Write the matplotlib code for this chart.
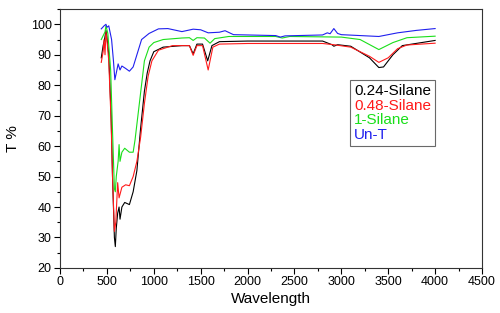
import matplotlib
matplotlib.use("Agg")
import matplotlib.pyplot as plt
from matplotlib.ticker import MultipleLocator

plt.rcParams['font.family'] = ['Liberation Sans', 'DejaVu Sans']

# 0.24-Silane (black)
x_black = [440, 460, 475, 490, 500, 520, 545, 560, 580, 590, 600, 615, 630, 640, 660, 690, 740,
           780, 820, 860, 900, 930, 960, 1000, 1100, 1300, 1380, 1420, 1460, 1520, 1575, 1620,
           1700, 2000, 2800, 2900, 2920, 2960, 3100, 3300, 3400, 3450, 3550, 3650, 4000]
y_black = [89, 93, 95, 98, 96, 90, 70, 50, 30, 27, 33, 38, 40, 36, 40, 41.5, 40.8,
           45, 52, 66, 78, 84, 88, 91, 92.5, 93, 93, 90.3, 93.5, 93.5, 88, 93,
           94.3, 94.5, 94.5, 93.3, 92.8, 93.3, 92.8, 89, 85.8, 86, 90, 93, 94.7]

# 0.48-Silane (red)
x_red = [440, 460, 470, 480, 490, 500, 520, 545, 560, 580, 595, 615, 630, 660, 700, 740, 780,
         820, 860, 900, 940, 980, 1050, 1200, 1380, 1420, 1460, 1520, 1580, 1630, 1700, 2000,
         2800, 2920, 3100, 3300, 3400, 3500, 3600, 3700, 4000]
y_red = [87.5, 91, 95, 90, 97.5, 95, 88, 68, 50, 32, 35, 48, 43, 46.5, 47.3, 47, 50,
         55, 63, 74, 83, 88, 91.5, 93, 93, 89.8, 93, 93, 85, 92.5, 93.5, 93.7,
         93.7, 93.3, 92.5, 89.5, 87.5, 89, 92, 93.2, 93.8]

# 1-Silane (green)
x_green = [440, 480, 490, 510, 540, 560, 580, 590, 600, 620, 630, 640, 660, 690, 740, 780, 800,
           850, 900, 950, 1000, 1100, 1300, 1380, 1420, 1460, 1540, 1600, 1650, 1800, 2300,
           2370, 2450, 3000, 3200, 3400, 3550, 3700, 4000]
y_green = [95, 97.5, 99.5, 97, 85, 65, 46, 45, 50, 55, 60.5, 55, 58, 59.3, 58, 58, 62,
           75, 88, 92.5, 94, 95, 95.5, 95.6, 94.7, 95.6, 95.5, 93.8, 95.3, 96, 96,
           95.5, 96, 95.8, 95, 91.7, 94, 95.6, 96.1]

# Un-T (blue)
x_blue = [440, 470, 490, 500, 520, 550, 570, 585, 600, 620, 640, 660, 700, 740, 780, 820, 870,
          950, 1050, 1150, 1300, 1420, 1500, 1580, 1700, 1760, 1850, 2000, 2300, 2350, 2400,
          2800, 2850, 2880, 2920, 2960, 3000, 3200, 3400, 3600, 3800, 4000]
y_blue = [98.5, 99.5, 100, 99, 99.5, 95, 88, 81.8, 84, 87, 85, 86.3, 85.5, 84.6, 86, 90, 95,
          97, 98.5, 98.6, 97.6, 98.4, 98.2, 97.2, 97.4, 97.9, 96.6, 96.5, 96.3, 95.8, 96.2,
          96.5, 97.2, 96.9, 98.6, 97, 96.6, 96.3, 96, 97.2, 98, 98.6]

series = [
    ("0.24-Silane", x_black, y_black, "#000000"),
    ("0.48-Silane", x_red, y_red, "#ff1a1a"),
    ("1-Silane", x_green, y_green, "#1adf1a"),
    ("Un-T", x_blue, y_blue, "#2020ee"),
]

fig = plt.figure(figsize=(5.0, 3.13), dpi=100)
ax = fig.add_axes([0.12, 0.144, 0.844, 0.827])

for label, xs, ys, c in series:
    ax.plot(xs, ys, color=c, lw=0.8, label=label)

ax.set_xlim(0, 4500)
ax.set_ylim(20, 105)
ax.set_xticks(range(0, 4501, 500))
ax.set_yticks(range(20, 101, 10))
ax.xaxis.set_minor_locator(MultipleLocator(250))
ax.yaxis.set_minor_locator(MultipleLocator(5))
ax.tick_params(which='major', direction='out', length=4, width=0.8, labelsize=9, pad=2)
ax.tick_params(which='minor', direction='out', length=2, width=0.8)
ax.tick_params(top=False, right=False)
for s in ax.spines.values():
    s.set_linewidth(0.8)
    s.set_color('#333333')

ax.set_xlabel("Wavelength", fontsize=11, labelpad=3)
ax.set_ylabel("T %", fontsize=11, labelpad=8)

leg = ax.legend(loc='upper left', bbox_to_anchor=(0.688, 0.726), handlelength=0,
                handletextpad=0, labelcolor='linecolor', fontsize=11, frameon=True,
                fancybox=False, borderpad=0.25, labelspacing=0.05, borderaxespad=0)
for h in leg.legend_handles:
    h.set_visible(False)
leg.get_frame().set_edgecolor('#444444')
leg.get_frame().set_linewidth(0.8)

fig.savefig("out.png", dpi=100)
